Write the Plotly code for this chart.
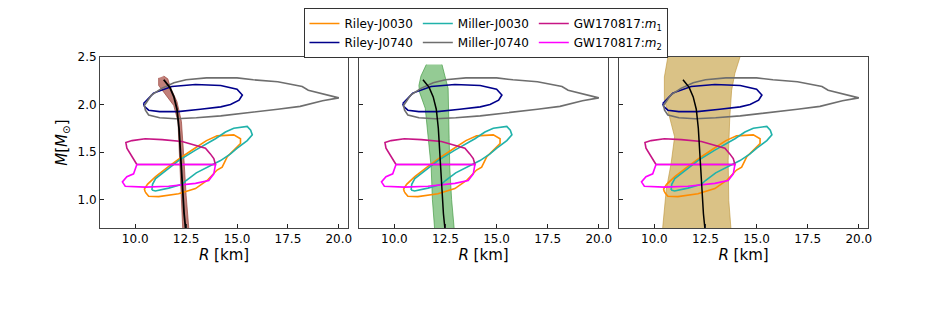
import plotly.graph_objects as go

# ---- NICER contours ----
r_riley0030 = [10.49, 10.66, 11.15, 12.13, 12.96, 13.53, 14.02, 14.27, 14.52, 14.84, 15.17, 15.17, 14.84,
               14.02, 13.5, 13.0, 12.3, 11.6, 11.0, 10.6, 10.45, 10.49]
m_riley0030 = [1.08, 1.035, 1.03, 1.06, 1.115, 1.2, 1.31, 1.34, 1.45, 1.52, 1.59, 1.64, 1.68,
               1.67, 1.62, 1.55, 1.45, 1.34, 1.24, 1.16, 1.11, 1.08]

r_riley0740 = [10.41, 10.9, 11.8, 12.96, 14.2, 15.0, 15.26, 15.1, 14.68, 14.2, 13.2, 12.1, 11.2, 10.66, 10.45, 10.41]
m_riley0740 = [2.01, 2.12, 2.19, 2.21, 2.2, 2.16, 2.1, 2.045, 2.0, 1.975, 1.95, 1.925, 1.925, 1.94, 1.98, 2.01]

r_miller0030 = [10.82, 10.85, 11.0, 11.31, 12.13, 12.96, 13.94, 14.43, 14.84, 15.5, 15.67, 15.75, 15.5, 15.01,
                14.68, 14.19, 13.53, 13.0, 12.5, 12.3, 11.64, 10.99, 10.82]
m_miller0030 = [1.10, 1.16, 1.22, 1.27, 1.41, 1.52, 1.64, 1.71, 1.75, 1.77, 1.73, 1.68, 1.62, 1.54,
                1.48, 1.41, 1.34, 1.28, 1.2, 1.16, 1.12, 1.09, 1.10]

r_miller0740 = [10.45, 10.8, 11.3, 11.9, 12.5, 13.5, 15.0, 15.8, 17.0, 18.2, 18.5, 19.2, 20.0,
                19.2, 18.5, 18.1, 17.0, 15.5, 14.2, 13.0, 12.0, 11.2, 10.66, 10.5, 10.45]
m_miller0740 = [1.99, 2.1, 2.17, 2.23, 2.26, 2.28, 2.28, 2.26, 2.24, 2.19, 2.15, 2.11, 2.07,
                2.04, 2.0, 1.98, 1.95, 1.91, 1.88, 1.86, 1.85, 1.86, 1.89, 1.94, 1.99]

# ---- GW170817 ----
r_gw_m1 = [10.08, 9.84, 9.59, 9.54, 9.84, 10.49, 11.32, 12.3, 12.96, 13.45, 13.69, 13.86, 13.94, 10.08]
m_gw_m1 = [1.368, 1.45, 1.54, 1.60, 1.62, 1.64, 1.63, 1.61, 1.57, 1.54, 1.48, 1.43, 1.368, 1.368]

r_gw_m2 = [10.08, 13.94, 13.86, 13.61, 12.96, 11.64, 10.49, 9.51, 9.37, 9.59, 9.92, 10.03, 10.08]
m_gw_m2 = [1.368, 1.368, 1.27, 1.20, 1.17, 1.14, 1.13, 1.14, 1.185, 1.24, 1.27, 1.33, 1.368]

# ---- median M-R curve ----
r_median = [11.4, 11.7, 11.9, 12.05, 12.15, 12.22, 12.28, 12.33, 12.4, 12.47]
m_median = [2.26, 2.18, 2.08, 1.95, 1.75, 1.5, 1.25, 1.0, 0.85, 0.7]

# ---- credible bands (left edge top->bottom, right edge bottom->top) ----
band1_left_r = [11.15, 11.15, 11.4, 11.89, 12.1, 12.18, 12.27, 12.33, 12.34]
band1_left_m = [2.28, 2.2, 2.13, 1.99, 1.82, 1.47, 1.045, 0.70, 0.6]
band1_right_r = [12.66, 12.63, 12.5, 12.38, 12.27, 12.05, 11.72, 11.6, 11.4]
band1_right_m = [0.6, 0.70, 1.045, 1.47, 1.82, 2.03, 2.185, 2.27, 2.30]

band2_left_r = [11.56, 11.3, 11.2, 11.23, 11.51, 11.67, 11.8, 11.86, 11.97, 12.0]
band2_left_m = [2.42, 2.3, 2.2, 2.13, 1.96, 1.64, 1.34, 1.0, 0.71, 0.6]
band2_right_r = [12.95, 12.92, 12.8, 12.71, 12.68, 12.63, 12.46, 12.33]
band2_right_m = [0.6, 0.71, 1.0, 1.34, 1.64, 2.17, 2.31, 2.42]

band3_left_r = [10.7, 10.66, 10.49, 10.49, 10.74, 10.99, 10.82, 10.58, 10.41, 10.4]
band3_left_m = [2.6, 2.5, 2.29, 2.045, 1.87, 1.66, 1.38, 1.10, 0.71, 0.6]
band3_right_r = [13.76, 13.74, 13.64, 13.61, 13.69, 13.78, 13.94, 14.19, 14.25]
band3_right_m = [0.6, 0.71, 0.99, 1.41, 1.87, 2.15, 2.33, 2.5, 2.6]

x_ticks = [10.0, 12.5, 15.0, 17.5, 20.0]
y_ticks = [1.0, 1.5, 2.0, 2.5]

contours = [
    ("Riley-J0030", r_riley0030, m_riley0030, "#FF8C00", "a"),
    ("Riley-J0740", r_riley0740, m_riley0740, "#00008B", "a"),
    ("Miller-J0030", r_miller0030, m_miller0030, "#20B2AA", "b"),
    ("Miller-J0740", r_miller0740, m_miller0740, "#6E6E6E", "b"),
    ("GW170817:<i>m</i><sub>1</sub>", r_gw_m1, m_gw_m1, "#C71585", "c"),
    ("GW170817:<i>m</i><sub>2</sub>", r_gw_m2, m_gw_m2, "#FF00FF", "c"),
]

bands = [
    (band1_left_r + band1_right_r, band1_left_m + band1_right_m, "rgba(160,60,50,0.65)", "rgba(150,60,50,0.8)"),
    (band2_left_r + band2_right_r, band2_left_m + band2_right_m, "rgba(60,160,60,0.55)", "rgba(60,150,60,0.8)"),
    (band3_left_r + band3_right_r, band3_left_m + band3_right_m, "rgba(196,156,60,0.62)", "rgba(190,150,60,0.8)"),
]

fig = go.Figure()

for i, (br, bm, fc, lc) in enumerate(bands):
    xa = "x" if i == 0 else f"x{i+1}"
    ya = "y" if i == 0 else f"y{i+1}"
    fig.add_trace(go.Scatter(x=br, y=bm, fill="toself", fillcolor=fc, mode="lines",
                             line=dict(color=lc, width=0.8), showlegend=False, hoverinfo="skip",
                             xaxis=xa, yaxis=ya))
    for name, r, m, col, grp in contours:
        fig.add_trace(go.Scatter(x=r, y=m, mode="lines", name=name, line=dict(color=col, width=1.6),
                                 legendgroup=grp, showlegend=(i == 0), xaxis=xa, yaxis=ya))
    fig.add_trace(go.Scatter(x=r_median, y=m_median, mode="lines", line=dict(color="black", width=1.8 if i == 0 else 1.5),
                             showlegend=False, xaxis=xa, yaxis=ya))

# page body adds an 8px offset, so panel edges are placed 8px up/left
x_domains = [[92 / 926, 340 / 926], [351 / 926, 600 / 926], [611 / 926, 860 / 926]]
y_domain = [1 - 220 / 327, 1 - 49 / 327]

axis_common = dict(showline=True, mirror=True, linecolor="#444", linewidth=1, ticks="inside", ticklen=4,
                   tickcolor="#222", showgrid=False, zeroline=False, tickfont=dict(size=12, color="black"))

for i in range(3):
    sfx = "" if i == 0 else str(i + 1)
    fig.update_layout(**{
        f"xaxis{sfx}": dict(axis_common, domain=x_domains[i], range=[8.27, 20.45], tickvals=x_ticks,
                            tickformat=".1f", anchor=f"y{sfx}",
                            title=dict(text="<i>R</i> [km]", font=dict(size=15, color="black"), standoff=3)),
        f"yaxis{sfx}": dict(axis_common, domain=y_domain, range=[0.7, 2.5], tickvals=y_ticks, tickformat=".1f",
                            anchor=f"x{sfx}", showticklabels=(i == 0),
                            title=dict(text="<i>M</i>[<i>M</i><sub>⊙</sub>]" if i == 0 else "",
                                       font=dict(size=15, color="black"), standoff=6)),
    })

fig.update_layout(
    width=926, height=327,
    margin=dict(l=0, r=0, t=0, b=0, autoexpand=False),
    paper_bgcolor="white", plot_bgcolor="white",
    font=dict(family="DejaVu Sans", color="black"),
    legend=dict(orientation="h", x=0.5167, xanchor="center", y=1.0, yanchor="top",
                bordercolor="#333", borderwidth=1, bgcolor="white", font=dict(size=12),
                tracegroupgap=8, itemwidth=30),
)

fig.write_html("out.html")
